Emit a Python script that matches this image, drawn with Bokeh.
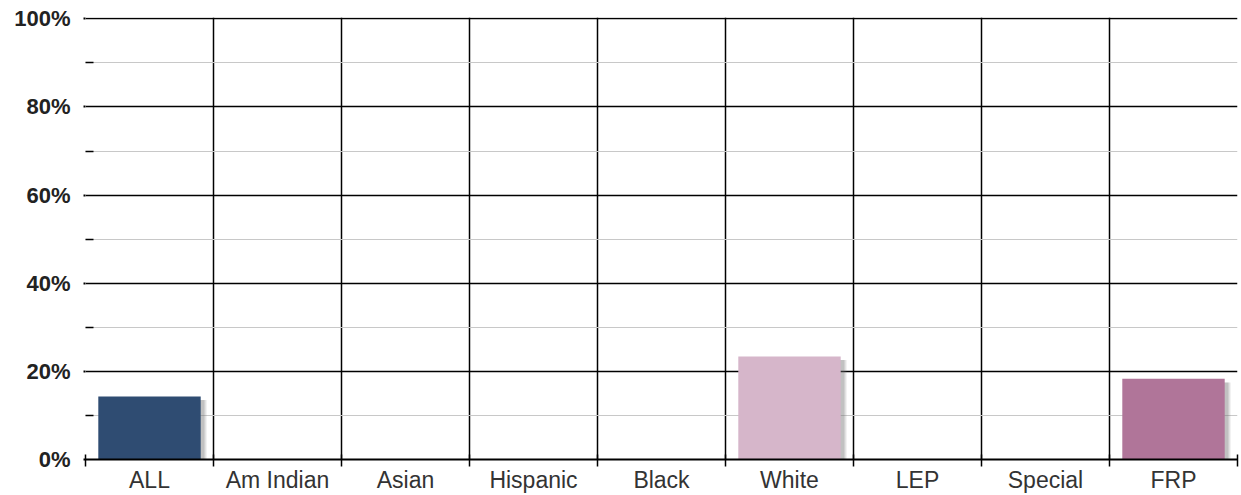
import math
from bokeh.plotting import figure
from bokeh.models import ColumnDataSource, FixedTicker, PrintfTickFormatter, Range1d
from bokeh.transform import dodge
from bokeh.embed import file_html
from bokeh.resources import INLINE

categories = ["ALL", "Am Indian", "Asian", "Hispanic", "Black", "White", "LEP", "Special", "FRP"]
values = [14.3, None, None, None, None, 23.4, None, None, 18.3]
colors = ["#2f4c72", "#d6b6ca", "#d6b6ca", "#d6b6ca", "#d6b6ca", "#d6b6ca", "#b07599", "#b07599", "#b07599"]
y_ticks = [0, 20, 40, 60, 80, 100]
y_minor = [10, 30, 50, 70, 90]

n = len(categories)
centers = [i + 0.5 for i in range(n)]
bounds = list(range(n + 1))
tops = [float("nan") if v is None else v for v in values]

src = ColumnDataSource(dict(x=centers, top=tops, color=colors,
                            stop=[t - 0.8 for t in tops]))

p = figure(width=1241, height=495, output_backend="svg", toolbar_location=None,
           x_range=Range1d(0, n), y_range=Range1d(0, 100.3),
           min_border_left=85, min_border_right=4, min_border_top=17, min_border_bottom=35)
p.outline_line_color = None
p.background_fill_color = "white"
p.border_fill_color = "white"

# shadows
p.vbar(x=dodge("x", 0.045, range=p.x_range), top="stop", bottom=0, width=0.8,
       source=src, fill_color="#7a7a7a", fill_alpha=0.22, line_color=None)
p.vbar(x=dodge("x", 0.03, range=p.x_range), top="stop", bottom=0, width=0.8,
       source=src, fill_color="#6a6a6a", fill_alpha=0.28, line_color=None)
# bars
p.vbar(x="x", top="top", bottom=0, width=0.8, source=src,
       fill_color="color", line_color=None)

# x axis
p.xaxis.ticker = FixedTicker(ticks=centers, minor_ticks=bounds)
p.xaxis.major_label_overrides = {c: lab for c, lab in zip(centers, categories)}
p.xaxis.major_tick_line_color = None
p.xaxis.major_tick_out = 0
p.xaxis.major_tick_in = 0
p.xaxis.minor_tick_line_color = "black"
p.xaxis.minor_tick_line_width = 1.5
p.xaxis.minor_tick_out = 7
p.xaxis.minor_tick_in = 5
p.xaxis.axis_line_color = "black"
p.xaxis.axis_line_width = 2
p.xaxis.major_label_standoff = 0
p.xaxis.major_label_text_font = "Liberation Sans"
p.xaxis.major_label_text_font_size = "23px"
p.xaxis.major_label_text_color = "#333333"

# y axis
p.yaxis.ticker = FixedTicker(ticks=y_ticks, minor_ticks=y_minor)
p.yaxis.formatter = PrintfTickFormatter(format="%d%%")
p.yaxis.axis_line_color = None
p.yaxis.major_tick_line_color = "black"
p.yaxis.major_tick_line_width = 2
p.yaxis.major_tick_out = 2
p.yaxis.major_tick_in = 0
p.yaxis.minor_tick_line_color = "black"
p.yaxis.minor_tick_line_width = 1.5
p.yaxis.minor_tick_in = 8
p.yaxis.minor_tick_out = 0
p.yaxis.major_label_standoff = 13
p.yaxis.major_label_text_font = "Liberation Sans"
p.yaxis.major_label_text_font_size = "22px"
p.yaxis.major_label_text_font_style = "bold"
p.yaxis.major_label_text_color = "#222222"

# grids
p.xgrid.ticker = FixedTicker(ticks=bounds[1:-1])
p.xgrid.grid_line_color = "black"
p.xgrid.grid_line_width = 1.5
p.ygrid.grid_line_color = "black"
p.ygrid.grid_line_width = 1.5
p.ygrid.minor_grid_line_color = "#c8c8c8"
p.ygrid.minor_grid_line_width = 1

open("out.html", "w").write(file_html(p, INLINE))
